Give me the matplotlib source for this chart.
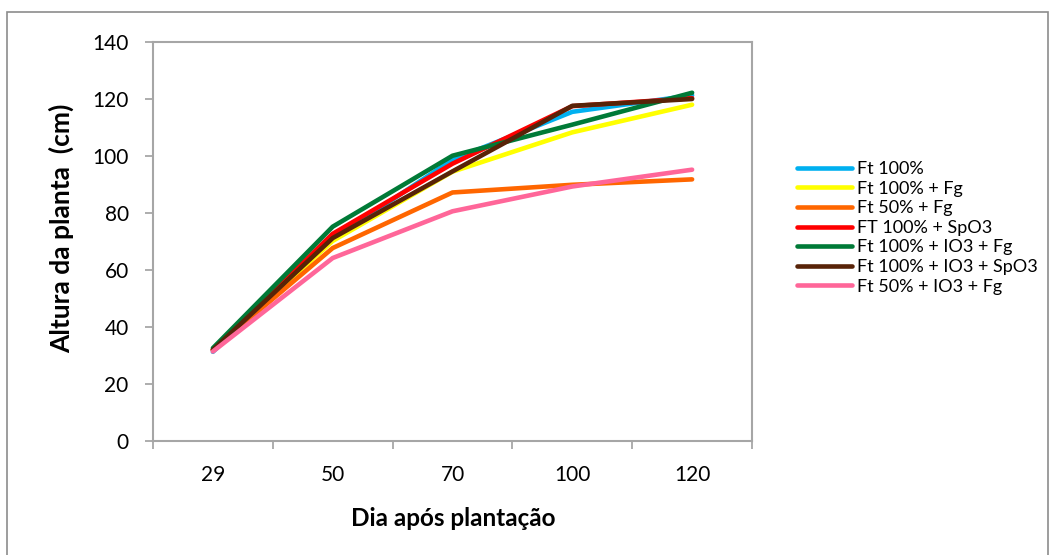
import matplotlib
matplotlib.use("Agg")
import matplotlib.pyplot as plt
from matplotlib.patches import Rectangle

plt.rcParams['font.family'] = ['Lato', 'DejaVu Sans']

days = ["29", "50", "70", "100", "120"]
labels = ["Ft 100%", "Ft 100% + Fg", "Ft 50% + Fg", "FT 100% + SpO3",
          "Ft 100% + IO3 + Fg", "Ft 100% + IO3 + SpO3", "Ft 50% + IO3 + Fg"]
ft100 = [31.3, 70.8, 98.7, 115.5, 121.3]
ft100_fg = [32.0, 70.2, 94.5, 108.3, 118.0]
ft50_fg = [32.0, 67.7, 87.2, 89.9, 91.8]
ft100_spo3 = [32.0, 72.7, 97.3, 117.5, 120.3]
ft100_io3_fg = [32.6, 75.2, 100.1, 111.0, 122.2]
ft100_io3_spo3 = [32.0, 71.2, 94.6, 117.6, 120.0]
ft50_io3_fg = [31.4, 64.2, 80.6, 89.3, 95.2]
series = [ft100, ft100_fg, ft50_fg, ft100_spo3, ft100_io3_fg, ft100_io3_spo3, ft50_io3_fg]
colors = ['#00B0F0', '#FFFF00', '#FF6600', '#FF0000', '#007A37', '#582308', '#FF6699']

W, H = 1049, 555
fig = plt.figure(figsize=(W / 100, H / 100), dpi=100)
fig.patch.set_facecolor('white')
fig.patches.append(Rectangle((7 / W, 1 - 562 / H), (1048 - 7) / W, (562 - 12) / H,
                             transform=fig.transFigure, fill=False,
                             edgecolor='#8C8C8C', linewidth=1.2))

ax = fig.add_axes([153 / W, (H - 441) / H, (752 - 153) / W, (441 - 42) / H])
x = list(range(len(days)))
for vals, c, lab in zip(series, colors, labels):
    ax.plot(x, vals, color=c, linewidth=3.3, label=lab, solid_capstyle='round')

ax.set_xlim(-0.5, len(days) - 0.5)
ax.set_ylim(0, 140)
ax.set_yticks(range(0, 141, 20))
ax.set_xticks(x)
ax.set_xticklabels(days)
ax.set_xticks([i - 0.5 for i in range(len(days) + 1)], minor=True)
ax.tick_params(axis='x', which='major', length=0, pad=17, labelsize=15)
ax.tick_params(axis='x', which='minor', length=5.5, color='#A0A0A0', width=1.2, direction='out')
ax.tick_params(axis='y', length=5.5, color='#A0A0A0', width=1.2, pad=12, labelsize=15)
for s in ax.spines.values():
    s.set_color('#A6A6A6')
    s.set_linewidth(1.5)

fig.text(61 / W, 1 - 228 / H, "Altura da planta  (cm)", rotation=90,
         ha='center', va='center', fontsize=19, fontweight='bold')
fig.text(453 / W, 1 - 519 / H, "Dia após plantação", ha='center', va='center',
         fontsize=17.5, fontweight='bold')

fig.legend(loc='upper left', bbox_to_anchor=(797 / W, 1 - 161 / H), frameon=False,
           fontsize=13, handlelength=3.05, handletextpad=0.25, labelspacing=0.2,
           borderaxespad=0, borderpad=0)

fig.savefig("out.png", dpi=100)
